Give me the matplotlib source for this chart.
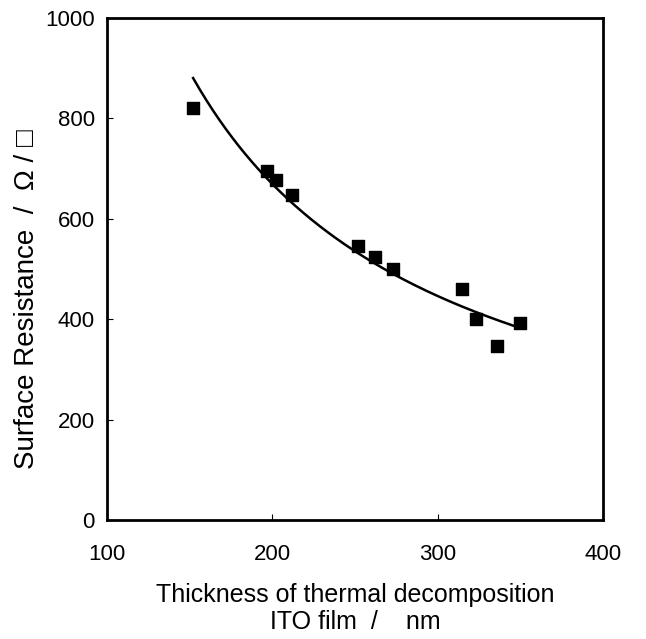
import numpy as np
import matplotlib
matplotlib.use('Agg')
import matplotlib.pyplot as plt

plt.rcParams['font.family'] = ['Liberation Sans', 'DejaVu Sans']

# film thickness (nm) vs surface resistance (ohm/sq)
thickness = [152, 197, 202, 212, 252, 262, 273, 315, 323, 336, 350]
resistance = [820, 695, 678, 648, 545, 523, 501, 460, 400, 347, 392]

x_ticks = [100, 200, 300, 400]
y_ticks = [0, 200, 400, 600, 800, 1000]

# power-law trend line fitted to the points
b, log_a = np.polyfit(np.log(thickness), np.log(resistance), 1)
t_fit = np.linspace(min(thickness), max(thickness), 200)
r_fit = np.exp(log_a) * t_fit ** b

fig = plt.figure(figsize=(6.46, 6.39), dpi=100)
ax = fig.add_axes([0.166, 0.186, 0.767, 0.786])

ax.plot(t_fit, r_fit, color='black', linewidth=1.8)
ax.scatter(thickness, resistance, marker='s', s=70, color='black', zorder=3)

ax.set_xlim(100, 400)
ax.set_ylim(0, 1000)
ax.set_xticks(x_ticks)
ax.set_yticks(y_ticks)
ax.tick_params(direction='in', length=4, width=0.8, labelsize=16, pad=9)
ax.tick_params(axis='x', pad=17)
for s in ax.spines.values():
    s.set_linewidth(2)

ax.set_xlabel('Thickness of thermal decomposition\nITO film  /    nm', fontsize=18, labelpad=13,
              linespacing=1.15)
ax.set_ylabel('Surface Resistance  /  Ω / □', fontsize=20)
ax.yaxis.set_label_coords(-0.135, 0.44)

fig.savefig('out.png', dpi=100)
